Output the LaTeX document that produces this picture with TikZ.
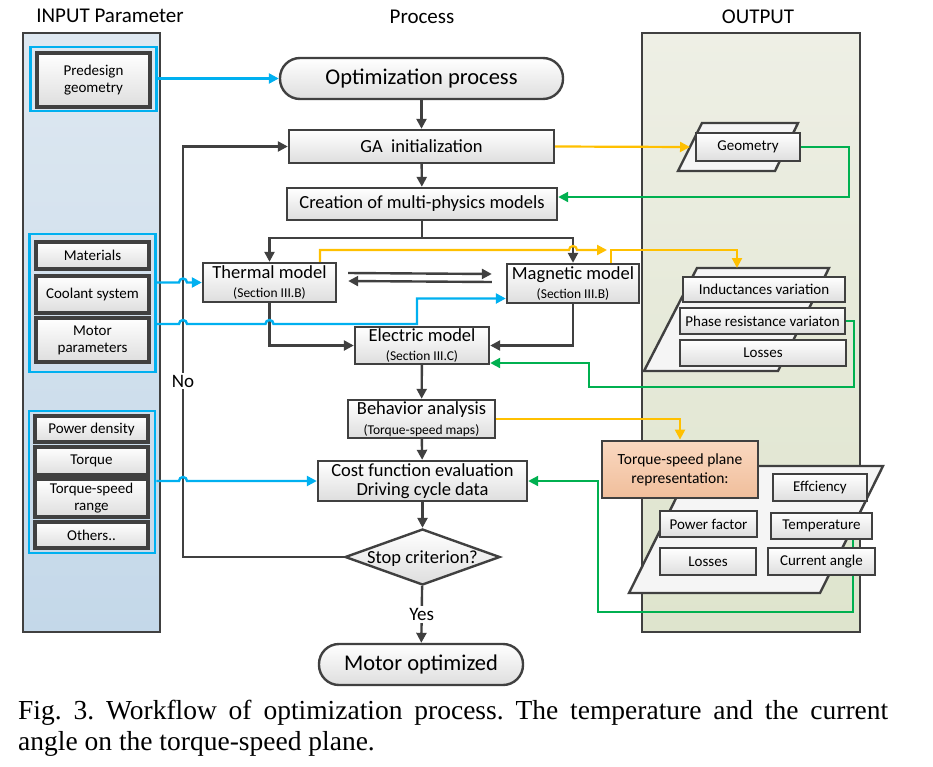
\documentclass[tikz,border=0pt]{standalone}
\usepackage{fontspec}
\setmainfont{Carlito}
\newfontfamily\captionfont{Liberation Serif}
\usetikzlibrary{arrows.meta}
\usetikzlibrary{shapes.geometric}

\definecolor{darkline}{RGB}{64,64,64}
\definecolor{inputblue}{RGB}{0,176,240}
\definecolor{outyellow}{RGB}{255,192,0}
\definecolor{feedgreen}{RGB}{0,176,80}
\definecolor{paneltop}{RGB}{222,232,241}
\definecolor{panelbot}{RGB}{196,216,233}
\definecolor{olivetop}{RGB}{238,239,229}
\definecolor{olivebot}{RGB}{222,228,205}
\definecolor{peachtop}{RGB}{250,216,192}
\definecolor{peachbot}{RGB}{240,190,155}

\tikzset{
  procbox/.style={draw=darkline, line width=2.4pt, top color=white, bottom color=black!13, inner sep=0pt, align=center, font=\fontsize{18.5}{19.5}\selectfont},
  inbox/.style={procbox, line width=3.2pt, minimum width=113pt, font=\fontsize{15}{17}\selectfont},
  outbox/.style={procbox, line width=2.8pt, font=\fontsize{15}{17}\selectfont},
  termbox/.style={procbox, rounded corners=20pt, font=\fontsize{22.5}{24}\selectfont},
  bracket/.style={draw=inputblue, line width=2.8pt, inner sep=0pt},
  panel/.style={draw=darkline, line width=2.8pt},
  sheet/.style={draw=darkline, line width=2.4pt, fill=black!4},
  flow/.style={draw=darkline, line width=2.4pt, -{Triangle[length=10pt,width=10pt]}},
  inflow/.style={draw=inputblue, line width=2.4pt, -{Triangle[length=10pt,width=10pt]}},
  outflow/.style={draw=outyellow, line width=2.2pt, -{Triangle[length=10pt,width=10pt]}},
  backflow/.style={draw=feedgreen, line width=2.2pt, -{Triangle[length=10pt,width=10pt]}},
  heading/.style={font=\fontsize{21}{23}\selectfont},
  flowlabel/.style={fill=white, inner sep=2pt, font=\fontsize{19}{20}\selectfont}
}

\begin{document}
\frenchspacing
\begin{tikzpicture}[x=1pt, y=-1pt]
\useasboundingbox (0,0) rectangle (933,766);

% titles
\node[heading] (intitle) at (110,16) {INPUT Parameter};
\node[heading] (proctitle) at (422,17) {Process};
\node[heading] (outtitle) at (758,17) {OUTPUT};

% input and output panels
\draw[panel, top color=paneltop, bottom color=panelbot] (23,33) rectangle (160,632);
\draw[panel, top color=olivetop, bottom color=olivebot] (642,33) rectangle (860,632);

% input parameter groups
\node[bracket, minimum width=126pt, minimum height=64pt] (inA) at (93.5,79) {};
\node[bracket, minimum width=126pt, minimum height=138pt] (inB) at (92.5,303) {};
\node[bracket, minimum width=126pt, minimum height=142pt] (inC) at (92,482) {};
\node[inbox, minimum height=54pt] (predesign) at (93.5,80) {Predesign\\geometry};
\node[inbox, minimum height=27pt] (materials) at (92.5,255.5) {Materials};
\node[inbox, minimum height=37pt] (coolant) at (92.5,294.5) {Coolant system};
\node[inbox, minimum height=44pt] (motorpar) at (92.5,340) {Motor\\parameters};
\node[inbox, minimum height=26pt] (powerden) at (91.5,429) {Power density};
\node[inbox, minimum height=28pt] (torque) at (91.5,461) {Torque};
\node[inbox, minimum height=38pt] (tsrange) at (91.5,498) {Torque-speed\\range};
\node[inbox, minimum height=26pt] (others) at (91.5,535) {Others..};

% process column
\node[termbox, minimum width=283pt, minimum height=41pt] (opt) at (421.5,78.5) {Optimization process};
\node[procbox, minimum width=265pt, minimum height=33pt] (ga) at (421.5,146.5) {GA~~initialization};
\node[procbox, minimum width=270pt, minimum height=32pt] (create) at (422,204) {Creation of multi-physics models};
\node[procbox, minimum width=133pt, minimum height=39pt] (thermal) at (269.5,282.5) {Thermal model\\{\fontsize{13.5}{14}\selectfont(Section III.B)}};
\node[procbox, minimum width=132pt, minimum height=39pt] (magnetic) at (573,283.5) {Magnetic model\\{\fontsize{13.5}{14}\selectfont(Section III.B)}};
\node[procbox, minimum width=134pt, minimum height=37pt] (electric) at (422,345.5) {Electric model\\{\fontsize{13.5}{14}\selectfont(Section III.C)}};
\node[procbox, minimum width=147pt, minimum height=38pt] (behave) at (421.5,419) {Behavior analysis\\{\fontsize{13.5}{14}\selectfont(Torque-speed maps)}};
\node[procbox, minimum width=209pt, minimum height=40pt] (cost) at (422.5,481) {Cost function evaluation\\Driving cycle data};
\node[procbox, diamond, minimum width=155pt, minimum height=56pt, label={[font=\fontsize{18.5}{19.5}\selectfont, yshift=-2pt]center:Stop criterion?}] (stop) at (422.5,557) {};
\node[termbox, minimum width=204pt, minimum height=41pt] (motoropt) at (421,664.5) {Motor optimized};

% output sheets
\draw[sheet] (702,123) -- (798,123) -- (775,171) -- (678,171) -- cycle;
\draw[sheet] (697,268) -- (829,268) -- (778,371) -- (644,371) -- cycle;
\draw[sheet] (692,466) -- (883,466) -- (820,593) -- (629,593) -- cycle;
\coordinate (geoin) at (690,147);
\coordinate (indin) at (737,268);

% helper corners
\coordinate (split) at (422,238);
\coordinate (loop) at (183,557);
\coordinate (bluemid) at (417,324);
\coordinate (yjoin) at (611,250);
\coordinate (gA) at (849,197);
\coordinate (gB) at (854,387);
\coordinate (gC) at (589,363);
\coordinate (gD) at (853,612);
\coordinate (gE) at (598,481);

% output boxes
\node[outbox, minimum width=104pt, minimum height=28pt] (geometry) at (748,147) {Geometry};
\node[outbox, minimum width=162pt, minimum height=25pt] (induct) at (764,289.5) {Inductances variation};
\node[outbox, minimum width=165pt, minimum height=26pt] (phaseres) at (762.5,321) {Phase resistance variaton};
\node[outbox, minimum width=166pt, minimum height=26pt] (lossesA) at (763,353) {Losses};
\node[outbox, top color=peachtop, bottom color=peachbot, minimum width=156pt, minimum height=57pt, font=\fontsize{15.5}{19}\selectfont] (tsplane) at (680,469.5) {Torque-speed plane\\representation:};
\node[outbox, minimum width=94pt, minimum height=27pt] (effcy) at (820,487.5) {Effciency};
\node[outbox, minimum width=97pt, minimum height=26pt] (pfactor) at (708.5,524) {Power factor};
\node[outbox, minimum width=101pt, minimum height=26pt] (temper) at (821.5,526) {Temperature};
\node[outbox, minimum width=96pt, minimum height=27pt] (lossesB) at (708,561.5) {Losses};

% green line runs behind the current angle box
\draw[backflow] ([xshift=31.5pt]temper.south) -- (gD) -| (gE) -- (cost.east);
\node[outbox, minimum width=107pt, minimum height=27pt] (curang) at (821.5,561.5) {Current angle};

% main flow
\draw[flow] (opt) -- (ga);
\draw[flow] (ga) -- (create);
\draw[darkline, line width=2.4pt] (create) -- (split);
\draw[flow] (split) -| (thermal.north);
\draw[flow] (split) -| (magnetic.north);
\draw[flow] ([xshift=11pt,yshift=9.5pt]thermal.east) -- ([xshift=-14pt,yshift=9.5pt]magnetic.west);
\draw[flow] ([xshift=-14pt,yshift=1.5pt]magnetic.west) -- ([xshift=11pt,yshift=1.5pt]thermal.east);
\draw[flow] (thermal.south) |- (electric.west);
\draw[flow] (magnetic.south) |- (electric.east);
\draw[flow] (electric) -- (behave);
\draw[flow] (behave) -- (cost);
\draw[flow] (cost) -- (stop);
\draw[flow] (stop) -- node[flowlabel] (yes) {Yes} (motoropt);
\draw[flow] (stop.west) -- (loop) |- (ga.west);
\node[flowlabel] (nolabel) at (183,381) {No};

% input lines
\draw[inflow] (inA.east |- opt.west) -- (opt.west);
\draw[inflow] (inB.east |- thermal.west) -- ([xshift=-4pt]loop |- thermal.west) arc[start angle=180, end angle=0, radius=4pt] -- (thermal.west);
\draw[inflow] (inB.east |- bluemid) -- ([xshift=-4pt]loop |- bluemid) arc[start angle=180, end angle=0, radius=4pt] -- ([xshift=-4pt]thermal.south |- bluemid) arc[start angle=180, end angle=0, radius=4pt] -- (bluemid) |- ([yshift=-15pt]magnetic.west);
\draw[inflow] (inC.east |- cost.west) -- ([xshift=-4pt]loop |- cost.west) arc[start angle=180, end angle=0, radius=4pt] -- (cost.west);

% output lines
\draw[outflow] (ga.east) -- (geoin);
\draw[outflow] ([xshift=50.5pt]thermal.north) |- ([xshift=-4pt]magnetic.north |- yjoin) arc[start angle=180, end angle=0, radius=4pt] -- ([xshift=-4pt]yjoin);
\draw[outflow] ([xshift=38pt]magnetic.north) -- (yjoin) -| (indin);
\draw[outflow] (behave.east) -| (tsplane.north);

% feedback lines
\draw[backflow] (geometry.east) -| (gA) -- (create.east |- gA);
\draw[backflow] (phaseres.east) -| (gB) -| (gC) -- (electric.east |- gC);

% caption
\node[anchor=base west, inner sep=0pt, font=\captionfont\fontsize{27.5}{32}\selectfont] (capA) at (18,719) {\makebox[870pt][s]{Fig. 3. Workflow of optimization process. The temperature and the current}};
\node[anchor=base west, inner sep=0pt, font=\captionfont\fontsize{27.5}{32}\selectfont] (capB) at (18,750) {angle on the torque-speed plane.};
\end{tikzpicture}
\end{document}
